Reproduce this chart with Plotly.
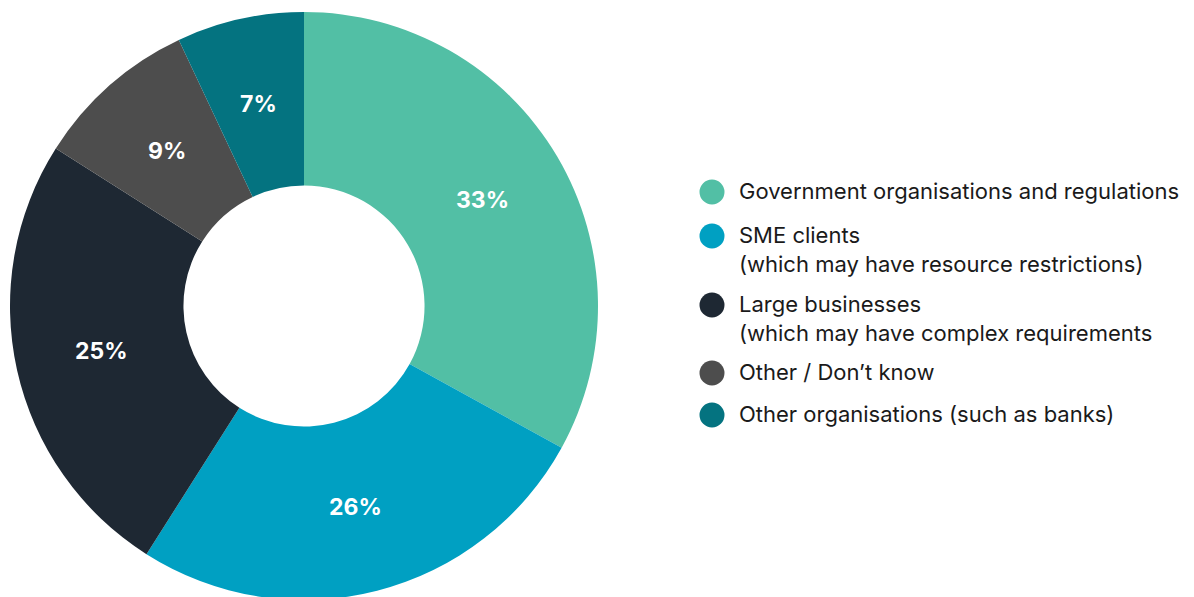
import math
import plotly.graph_objects as go

categories = [
    "Government organisations and regulations",
    "SME clients<br>(which may have resource restrictions)",
    "Large businesses<br>(which may have complex requirements",
    "Other / Don\u2019t know",
    "Other organisations (such as banks)",
]
values = [33, 26, 25, 9, 7]
colors = ["#52BFA5", "#00A0C2", "#1E2833", "#4D4D4D", "#047380"]

W, H = 1194, 597
OFF = 8  # default page body margin of the written html
FONT = "Inter, Liberation Sans, Arial, sans-serif"
HOLE = 0.41

# donut geometry in page pixels
pcx, pcy, pr = 304, 306, 294
fx, fy = pcx - OFF, pcy - OFF

fig = go.Figure()
fig.add_trace(go.Pie(
    labels=categories,
    values=values,
    marker=dict(colors=colors, line=dict(width=0)),
    hole=HOLE,
    sort=False,
    direction="clockwise",
    rotation=0,
    textinfo="none",
    showlegend=False,
    hoverinfo="label+percent",
    domain=dict(x=[(fx - pr) / W, (fx + pr) / W],
                y=[1 - (fy + pr) / H, 1 - (fy - pr) / H]),
))

annotations = []
# percentage labels at the middle of the ring, along each slice's mid-angle
total = sum(values)
r_lab = pr * (1 + HOLE) / 2
cum = 0
for v in values:
    mid = (cum + v / 2) / total
    cum += v
    th = 2 * math.pi * mid
    px = fx + r_lab * math.sin(th)
    py = fy - r_lab * math.cos(th)
    annotations.append(dict(text=f"{v}%", xref="paper", yref="paper",
                            x=px / W, y=1 - py / H, xanchor="center", yanchor="middle",
                            showarrow=False,
                            font=dict(family=FONT, size=23, color="white", weight="bold")))

# manual legend (circle markers + text), page pixel positions
legend_y = [192, 236, 305, 373, 415]
line_gap = 28.5
shapes = []
cx, rr, tx = 712 - OFF, 12.5, 737 - OFF
for lab, col, y in zip(categories, colors, legend_y):
    y = y - OFF
    shapes.append(dict(type="circle", xref="paper", yref="paper",
                       x0=(cx - rr) / W, x1=(cx + rr) / W,
                       y0=1 - (y + rr) / H, y1=1 - (y - rr) / H,
                       fillcolor=col, line=dict(width=0)))
    for i, part in enumerate(lab.split("<br>")):
        yy = y - 1 + i * line_gap
        annotations.append(dict(text=part, xref="paper", yref="paper",
                                x=tx / W, y=1 - yy / H, xanchor="left", yanchor="middle",
                                showarrow=False,
                                font=dict(family=FONT, size=22, color="#1a1a1a")))

fig.update_layout(
    width=W, height=H,
    margin=dict(l=0, r=0, t=0, b=0),
    paper_bgcolor="white", plot_bgcolor="white",
    shapes=shapes, annotations=annotations,
    showlegend=False,
)
fig.write_html("out.html")
